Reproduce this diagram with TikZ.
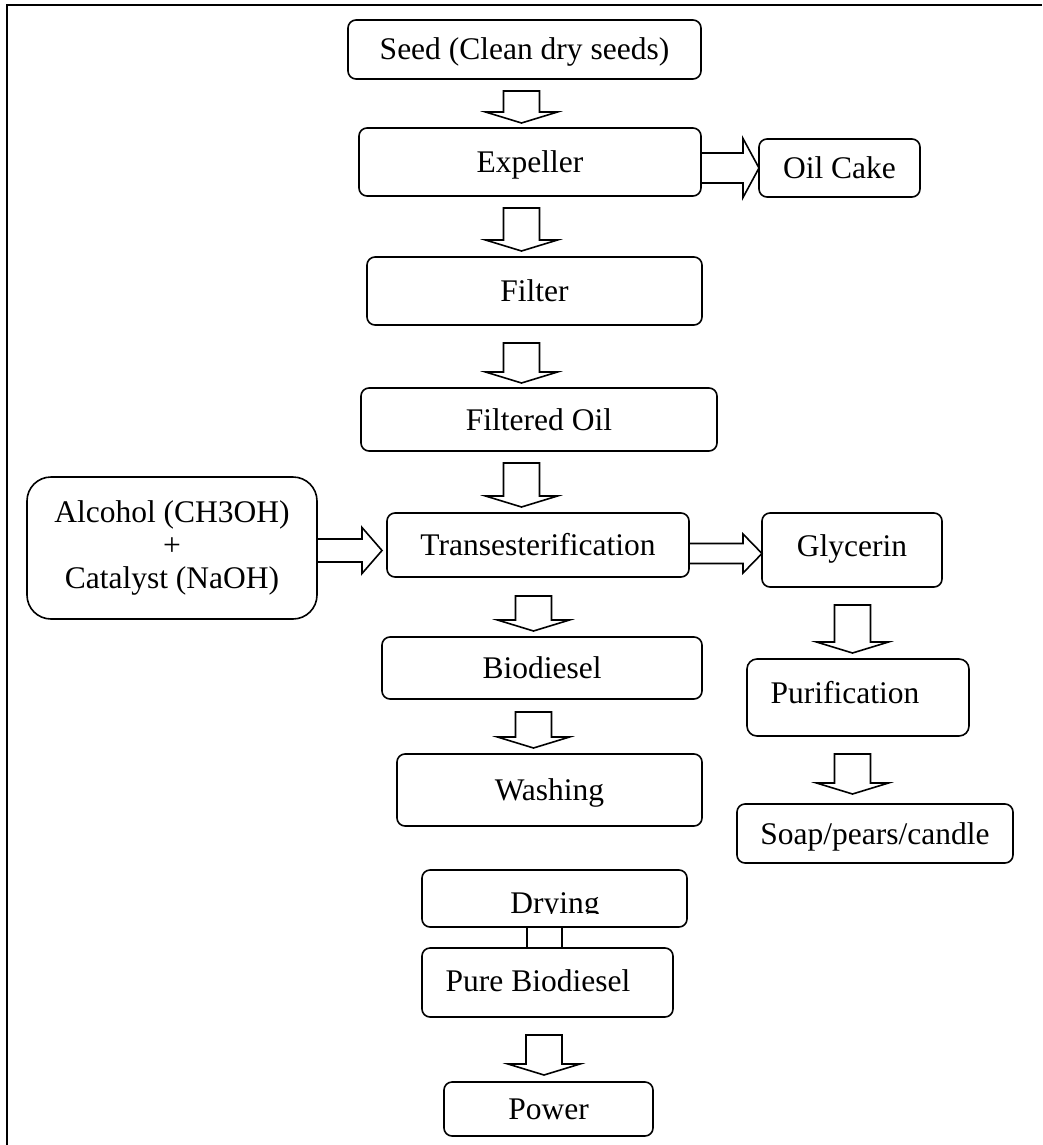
\documentclass[tikz,border=0pt]{standalone}
\usepackage{fontspec}
\setmainfont{Liberation Serif}
\usetikzlibrary{calc}
\tikzset{
  boxbase/.style={draw, line width=1.6pt, rounded corners=8pt, inner sep=0pt, outer sep=0pt,
    font=\fontsize{31.5}{33}\selectfont},
  box/.style={boxbase, text height=21pt, text depth=0pt},
  blk/.style={draw, line width=1.6pt, line join=miter},
  lbl/.style={inner sep=0pt, font=\fontsize{31.5}{33}\selectfont},
  frame/.style={draw, line width=2.6pt},
}
% down block arrow: from, to, x centre, gap below from, gap above to
\newcommand\vblock[5]{%
  \draw[blk] let \p1=(#1.south), \p2=(#2.north) in
    ({#3pt-18pt},{\y1-#4pt}) -- ({#3pt+18pt},{\y1-#4pt}) -- ({#3pt+18pt},{\y2+#5pt+11pt})
    -- ({#3pt+36pt},{\y2+#5pt+11pt}) -- ({#3pt},{\y2+#5pt}) -- ({#3pt-36pt},{\y2+#5pt+11pt})
    -- ({#3pt-18pt},{\y2+#5pt+11pt}) -- cycle;}
% right block arrow: from, to, y centre, shaft half, head half, head length, gap
\newcommand\hblock[7]{%
  \draw[blk] let \p1=(#1.east), \p2=(#2.west) in
    (\x1,{-#3pt+#4pt}) -- ({\x2-#7pt-#6pt},{-#3pt+#4pt}) -- ({\x2-#7pt-#6pt},{-#3pt+#5pt})
    -- ({\x2-#7pt},{-#3pt}) -- ({\x2-#7pt-#6pt},{-#3pt-#5pt}) -- ({\x2-#7pt-#6pt},{-#3pt-#4pt})
    -- (\x1,{-#3pt-#4pt});}
\begin{document}
\begin{tikzpicture}[x=1pt, y=-1pt]
\useasboundingbox (0,0) rectangle (1042,1145);
\draw[frame] (7,1145) -- (7,5) -- (1042,5);

\node[box, minimum width=353pt, minimum height=59pt] (seed) at (524.5,49.5) {Seed (Clean dry seeds)};
\node[box, minimum width=342pt, minimum height=68pt] (expeller) at (530,162) {Expeller};
\node[box, minimum width=161pt, minimum height=58pt] (oilcake) at (839.5,168) {Oil Cake};
\node[box, minimum width=335pt, minimum height=68pt] (filter) at (534.5,291) {Filter};
\node[box, minimum width=356pt, minimum height=63pt] (filtered) at (539,419.5) {Filtered Oil};
\node[boxbase, rounded corners=24pt, minimum width=290pt, minimum height=142pt, align=center] (alcohol) at (172,548)
  {Alcohol (CH3OH)\\+\\Catalyst (NaOH)};
\node[box, minimum width=302pt, minimum height=64pt] (trans) at (538,545) {Transesterification};
\node[box, minimum width=180pt, minimum height=74pt] (glycerin) at (852,550) {};
\node[lbl, anchor=base] (glytext) at (852,556) {Glycerin};
\node[box, minimum width=320pt, minimum height=62pt] (biodiesel) at (542,668) {Biodiesel};
\node[box, minimum width=305pt, minimum height=72pt] (washing) at (549.5,790) {Washing};
\node[box, rounded corners=10pt, minimum width=222pt, minimum height=77pt] (purif) at (858,697.5) {};
\node[lbl, anchor=base] (puriftext) at (845,703) {Purification};
\node[box, minimum width=276pt, minimum height=59pt] (soap) at (875,833.5) {Soap/pears/candle};
\node[box, minimum width=265pt, minimum height=57pt] (drying) at (554.5,898.5) {};
\begin{scope}
  \clip (422,870) rectangle (687,913);
  \node[lbl, anchor=base] (dryingtext) at (555,913) {Drying};
\end{scope}
\node[box, minimum width=251pt, minimum height=69pt] (pure) at (547.5,982.5) {};
\node[lbl, anchor=base] (puretext) at (538,991) {Pure Biodiesel};
\node[box, minimum width=209pt, minimum height=54pt] (power) at (548.5,1109) {Power};

\vblock{seed}{expeller}{521.5}{12}{5}
\vblock{expeller}{filter}{521.5}{12}{6}
\vblock{filter}{filtered}{521.5}{18}{5}
\vblock{filtered}{trans}{521.5}{12}{6}
\vblock{trans}{biodiesel}{533.5}{19}{6}
\vblock{biodiesel}{washing}{533.5}{13}{6}
\vblock{glycerin}{purif}{852.5}{18}{6}
\vblock{purif}{soap}{852.5}{18}{10}
\vblock{pure}{power}{544}{18}{7}

\hblock{expeller}{oilcake}{168}{15}{29.5}{16}{0}
\hblock{alcohol}{trans}{550.5}{11.5}{23}{20}{5}
\hblock{trans}{glycerin}{553.5}{10}{19.5}{19}{0}

\draw[blk] let \p1=(drying.south), \p2=(pure.north) in (527pt,\y1) -- (527pt,\y2);
\draw[blk] let \p1=(drying.south), \p2=(pure.north) in (562pt,\y1) -- (562pt,\y2);
\end{tikzpicture}
\end{document}
